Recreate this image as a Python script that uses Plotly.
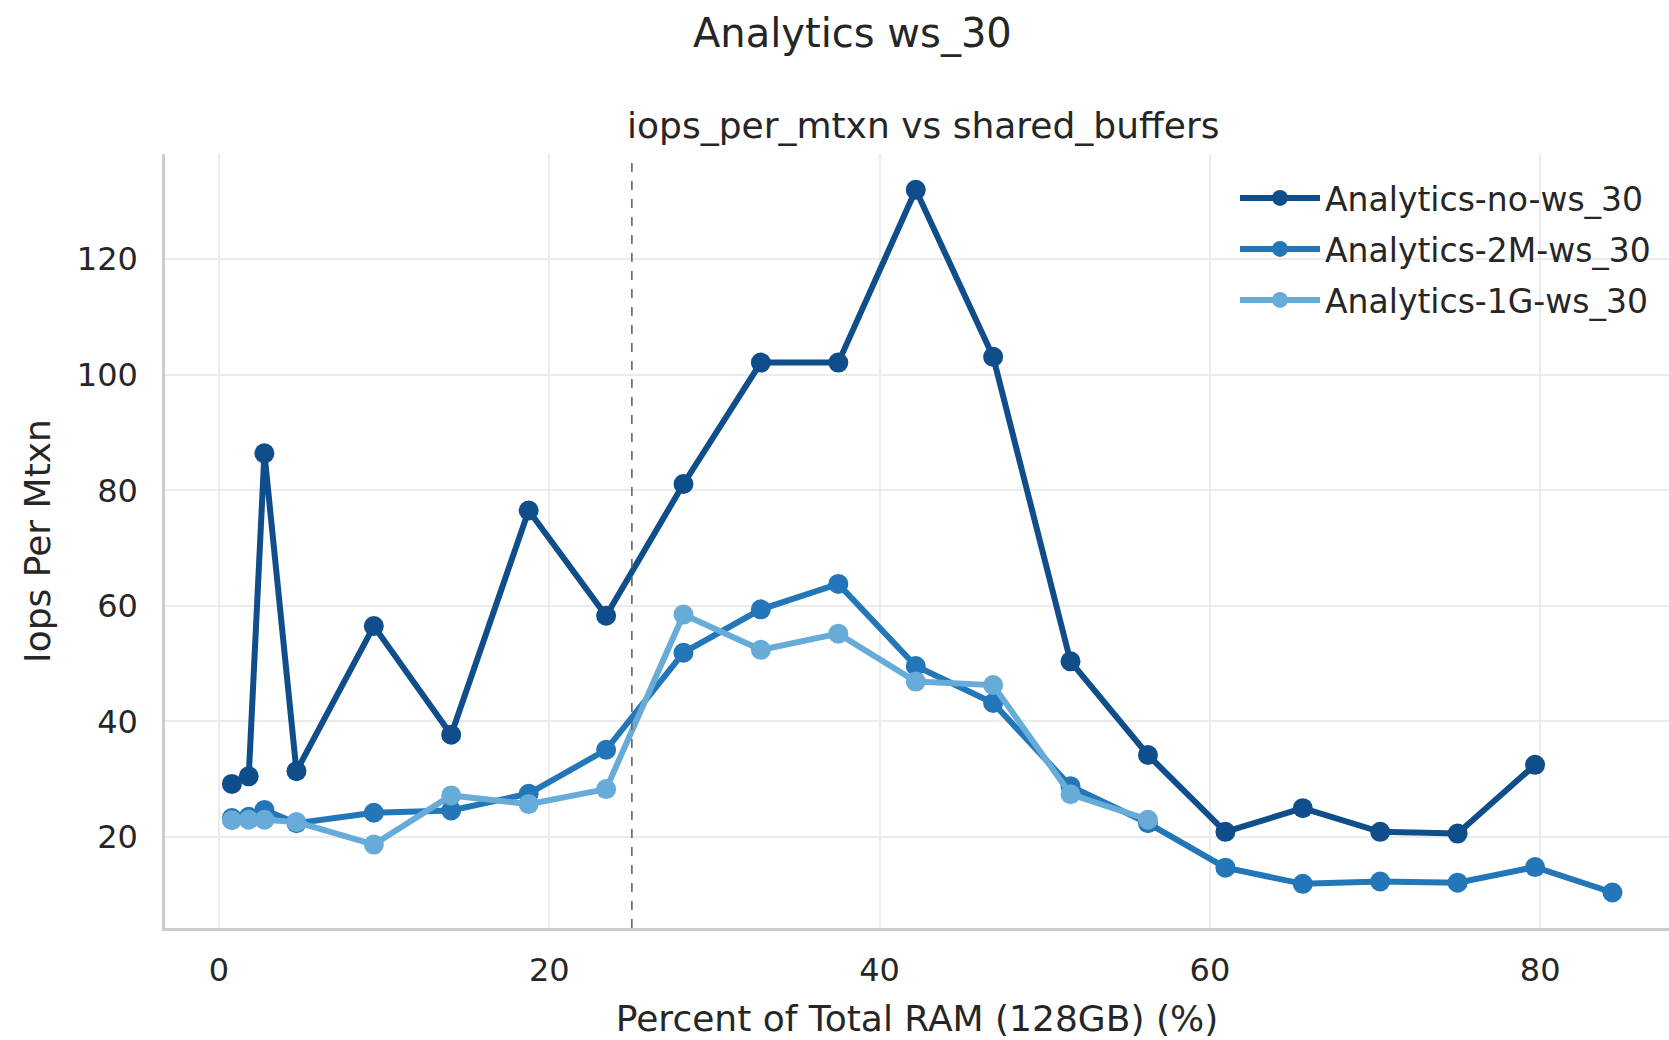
import plotly.graph_objects as go

# ---- data ----
x_no = [0.78, 1.8, 2.75, 4.69, 9.375, 14.06, 18.75, 23.44, 28.125, 32.81, 37.5,
        42.19, 46.875, 51.56, 56.25, 60.94, 65.625, 70.31, 75.0, 79.69]
y_no = [29.2, 30.5, 86.4, 31.4, 56.5, 37.7, 76.5, 58.3, 81.1, 102.1, 102.1,
        132.0, 103.1, 50.4, 34.2, 20.9, 25.0, 20.9, 20.6, 32.5]

x_2m = [0.78, 1.8, 2.75, 4.69, 9.375, 14.06, 18.75, 23.44, 28.125, 32.81, 37.5,
        42.19, 46.875, 51.56, 56.25, 60.94, 65.625, 70.31, 75.0, 79.69, 84.375]
y_2m = [23.3, 23.5, 24.7, 22.4, 24.2, 24.6, 27.5, 35.1, 51.9, 59.4, 63.8,
        49.6, 43.2, 28.8, 22.4, 14.7, 11.9, 12.3, 12.1, 14.8, 10.4]

x_1g = [0.78, 1.8, 2.75, 4.69, 9.375, 14.06, 18.75, 23.44, 28.125, 32.81, 37.5,
        42.19, 46.875, 51.56, 56.25]
y_1g = [22.9, 23.0, 23.0, 22.6, 18.7, 27.2, 25.7, 28.3, 58.5, 52.4, 55.2,
        46.9, 46.3, 27.4, 23.0]

series_names = ["Analytics-no-ws_30", "Analytics-2M-ws_30", "Analytics-1G-ws_30"]
series_colors = ["#0f4e8a", "#2376b7", "#67acd9"]
ref_line_x = 25
x_ticks = [0, 20, 40, 60, 80]
y_ticks = [20, 40, 60, 80, 100, 120]

FONT = "DejaVu Sans"
TXT = "#262626"

W, H = 1669, 1040
ML, MR, MT, MB = 165, 0, 154, 112
PW, PH = W - ML - MR, H - MT - MB


def px_x(px):
    return (px - ML) / PW


def px_y(py):
    return (H - MB - py) / PH


legend_ids = ["legend", "legend2", "legend3"]
legend_rows = [198, 249, 300]

fig = go.Figure()
for xs, ys, name, col, lid in zip([x_no, x_2m, x_1g], [y_no, y_2m, y_1g],
                                  series_names, series_colors, legend_ids):
    fig.add_trace(go.Scatter(
        x=xs, y=ys, mode="lines+markers", name=name, legend=lid,
        line=dict(color=col, width=6),
        marker=dict(color=col, size=20),
    ))

fig.add_shape(type="line", xref="x", yref="paper", x0=ref_line_x, x1=ref_line_x, y0=0, y1=1,
              line=dict(color="#666666", width=1.6, dash="dash"))

legend_common = dict(xanchor="left", yanchor="middle", font=dict(size=33, color=TXT),
                     bgcolor="rgba(255,255,255,0)", itemwidth=80)
layout_legends = {}
for lid, row in zip(legend_ids, legend_rows):
    layout_legends[lid] = dict(x=px_x(1235), y=px_y(row), **legend_common)

fig.update_layout(
    width=W, height=H,
    margin=dict(l=ML, r=MR, t=MT, b=MB),
    paper_bgcolor="white", plot_bgcolor="white",
    font=dict(family=FONT, color=TXT, size=30),
    showlegend=True,
    annotations=[
        dict(text="Analytics ws_30", x=px_x(852), y=px_y(34), xref="paper", yref="paper",
             xanchor="center", yanchor="middle", showarrow=False, font=dict(size=40, color=TXT)),
        dict(text="iops_per_mtxn vs shared_buffers", x=px_x(923), y=px_y(125), xref="paper", yref="paper",
             xanchor="center", yanchor="middle", showarrow=False, font=dict(size=36, color=TXT)),
    ],
    **layout_legends,
)

fig.update_xaxes(
    range=[-3.27, 87.8], tickvals=x_ticks, showgrid=True, gridcolor="#ebebeb", gridwidth=1.5,
    zeroline=False, showline=True, linecolor="#cccccc", linewidth=2.5,
    ticks="outside", ticklen=12, tickcolor="rgba(0,0,0,0)", tickfont=dict(size=32),
    title=dict(text="Percent of Total RAM (128GB) (%)", font=dict(size=36), standoff=18),
)
fig.update_yaxes(
    range=[4.26, 138.2], tickvals=y_ticks, showgrid=True, gridcolor="#ebebeb", gridwidth=1.5,
    zeroline=False, showline=True, linecolor="#cccccc", linewidth=2.5,
    ticks="outside", ticklen=18, tickcolor="rgba(0,0,0,0)", tickfont=dict(size=32),
    title=dict(text="Iops Per Mtxn", font=dict(size=36), standoff=16),
)

fig.write_html("out.html")
